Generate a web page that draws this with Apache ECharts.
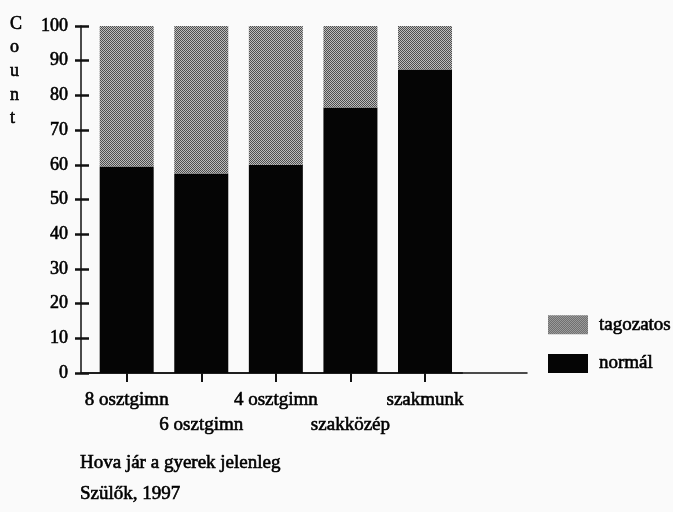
<!DOCTYPE html>
<html>
<head>
<meta charset="utf-8">
<script src="https://cdn.jsdelivr.net/npm/echarts@6/dist/echarts.min.js"></script>
<style>
html,body{margin:0;padding:0;background:#fafafa;}
#chart{width:673px;height:512px;}
</style>
</head>
<body>
<div id="chart"></div>
<script>
var categories = ['8 osztgimn', '6 osztgimn', '4 osztgimn', 'szakközép', 'szakmunk'];
var normalValues = [59.5, 57.5, 60, 76.5, 87.5];
var tagozatosValues = [40.5, 42.5, 40, 23.5, 12.5];
var captionLine1 = 'Hova jár a gyerek jelenleg';
var captionLine2 = 'Szülők, 1997';
var axisName = 'Count';

var FONT = '"Liberation Serif", "DejaVu Serif", serif';
var HEAVY = { textBorderColor: '#000', textBorderWidth: 0.6 };

function makePattern() {
  var c = document.createElement('canvas');
  c.width = 2; c.height = 2;
  var ctx = c.getContext('2d');
  ctx.fillStyle = '#bdbdbd'; ctx.fillRect(0, 0, 2, 2);
  ctx.fillStyle = '#4e4e4e';
  ctx.fillRect(0, 0, 1, 1);
  ctx.fillRect(1, 1, 1, 1);
  return c;
}
var patternFill = { image: makePattern(), repeat: 'repeat' };

function txt(size, extra) {
  var o = { fontFamily: FONT, fontSize: size, fontWeight: 'normal', color: '#000',
            textBorderColor: HEAVY.textBorderColor, textBorderWidth: HEAVY.textBorderWidth };
  for (var k in extra) o[k] = extra[k];
  return o;
}

var chart = echarts.init(document.getElementById('chart'), null, { renderer: 'canvas' });

var option = {
  backgroundColor: '#fafafa',
  animation: false,
  textStyle: { fontFamily: FONT, color: '#000' },
  title: [
    { text: axisName.split('').join('\n'), left: 10, top: 12, padding: 0,
      textStyle: txt(18, { lineHeight: 23.7 }) },
    { text: captionLine1, left: 80, top: 452, padding: 0, textStyle: txt(19, { lineHeight: 22 }) },
    { text: captionLine2, left: 80, top: 483, padding: 0, textStyle: txt(19, { lineHeight: 22 }) }
  ],
  legend: {
    orient: 'vertical',
    left: 548, top: 315,
    padding: 0,
    itemWidth: 40, itemHeight: 19, itemGap: 19,
    icon: 'rect',
    data: ['tagozatos', 'normál'],
    textStyle: txt(19, { padding: [0, 0, 0, 6] })
  },
  grid: [
    { left: 89.4, right: 210.7, top: 26, bottom: 139, containLabel: false },
    { left: 81, right: 146, top: 26, bottom: 139, containLabel: false }
  ],
  xAxis: [
    {
      type: 'category', gridIndex: 0, data: categories, boundaryGap: true,
      axisLine: { show: true, lineStyle: { color: '#111', width: 1.5 } },
      axisTick: { show: true, alignWithLabel: true, length: 9, lineStyle: { color: '#111', width: 2 } },
      axisLabel: Object.assign(txt(19, { lineHeight: 25 }), {
        interval: 0, margin: 15,
        formatter: function (v, i) { return i % 2 === 1 ? '\n' + v : v; }
      }),
      splitLine: { show: false }
    },
    {
      type: 'value', gridIndex: 1, min: 0, max: 1,
      axisLine: { show: true, onZero: false, lineStyle: { color: '#111', width: 1.5 } },
      axisTick: { show: false }, axisLabel: { show: false }, splitLine: { show: false }
    }
  ],
  yAxis: [
    {
      type: 'value', gridIndex: 0, min: 0, max: 100, interval: 10, position: 'left', offset: 8.4,
      axisLine: { show: true, lineStyle: { color: '#111', width: 1.5 } },
      axisTick: { show: true, inside: false, length: 6, lineStyle: { color: '#111', width: 2.5 } },
      axisLabel: Object.assign(txt(18, {}), { margin: 13 }),
      splitLine: { show: false }
    },
    {
      type: 'value', gridIndex: 0, min: 0, max: 100, interval: 10, position: 'left', offset: 8.4,
      axisLine: { show: false },
      axisTick: { show: true, inside: true, length: 8, lineStyle: { color: '#111', width: 2.5 } },
      axisLabel: { show: false },
      splitLine: { show: false }
    },
    { type: 'value', gridIndex: 1, min: 0, max: 1, show: false }
  ],
  series: [
    {
      name: 'normál', type: 'bar', stack: 'total', xAxisIndex: 0, yAxisIndex: 0,
      barWidth: 54, data: normalValues,
      itemStyle: { color: '#050505' }
    },
    {
      name: 'tagozatos', type: 'bar', stack: 'total', xAxisIndex: 0, yAxisIndex: 0,
      barWidth: 54, data: tagozatosValues,
      itemStyle: { color: patternFill }
    }
  ]
};
chart.setOption(option);
</script>
</body>
</html>
